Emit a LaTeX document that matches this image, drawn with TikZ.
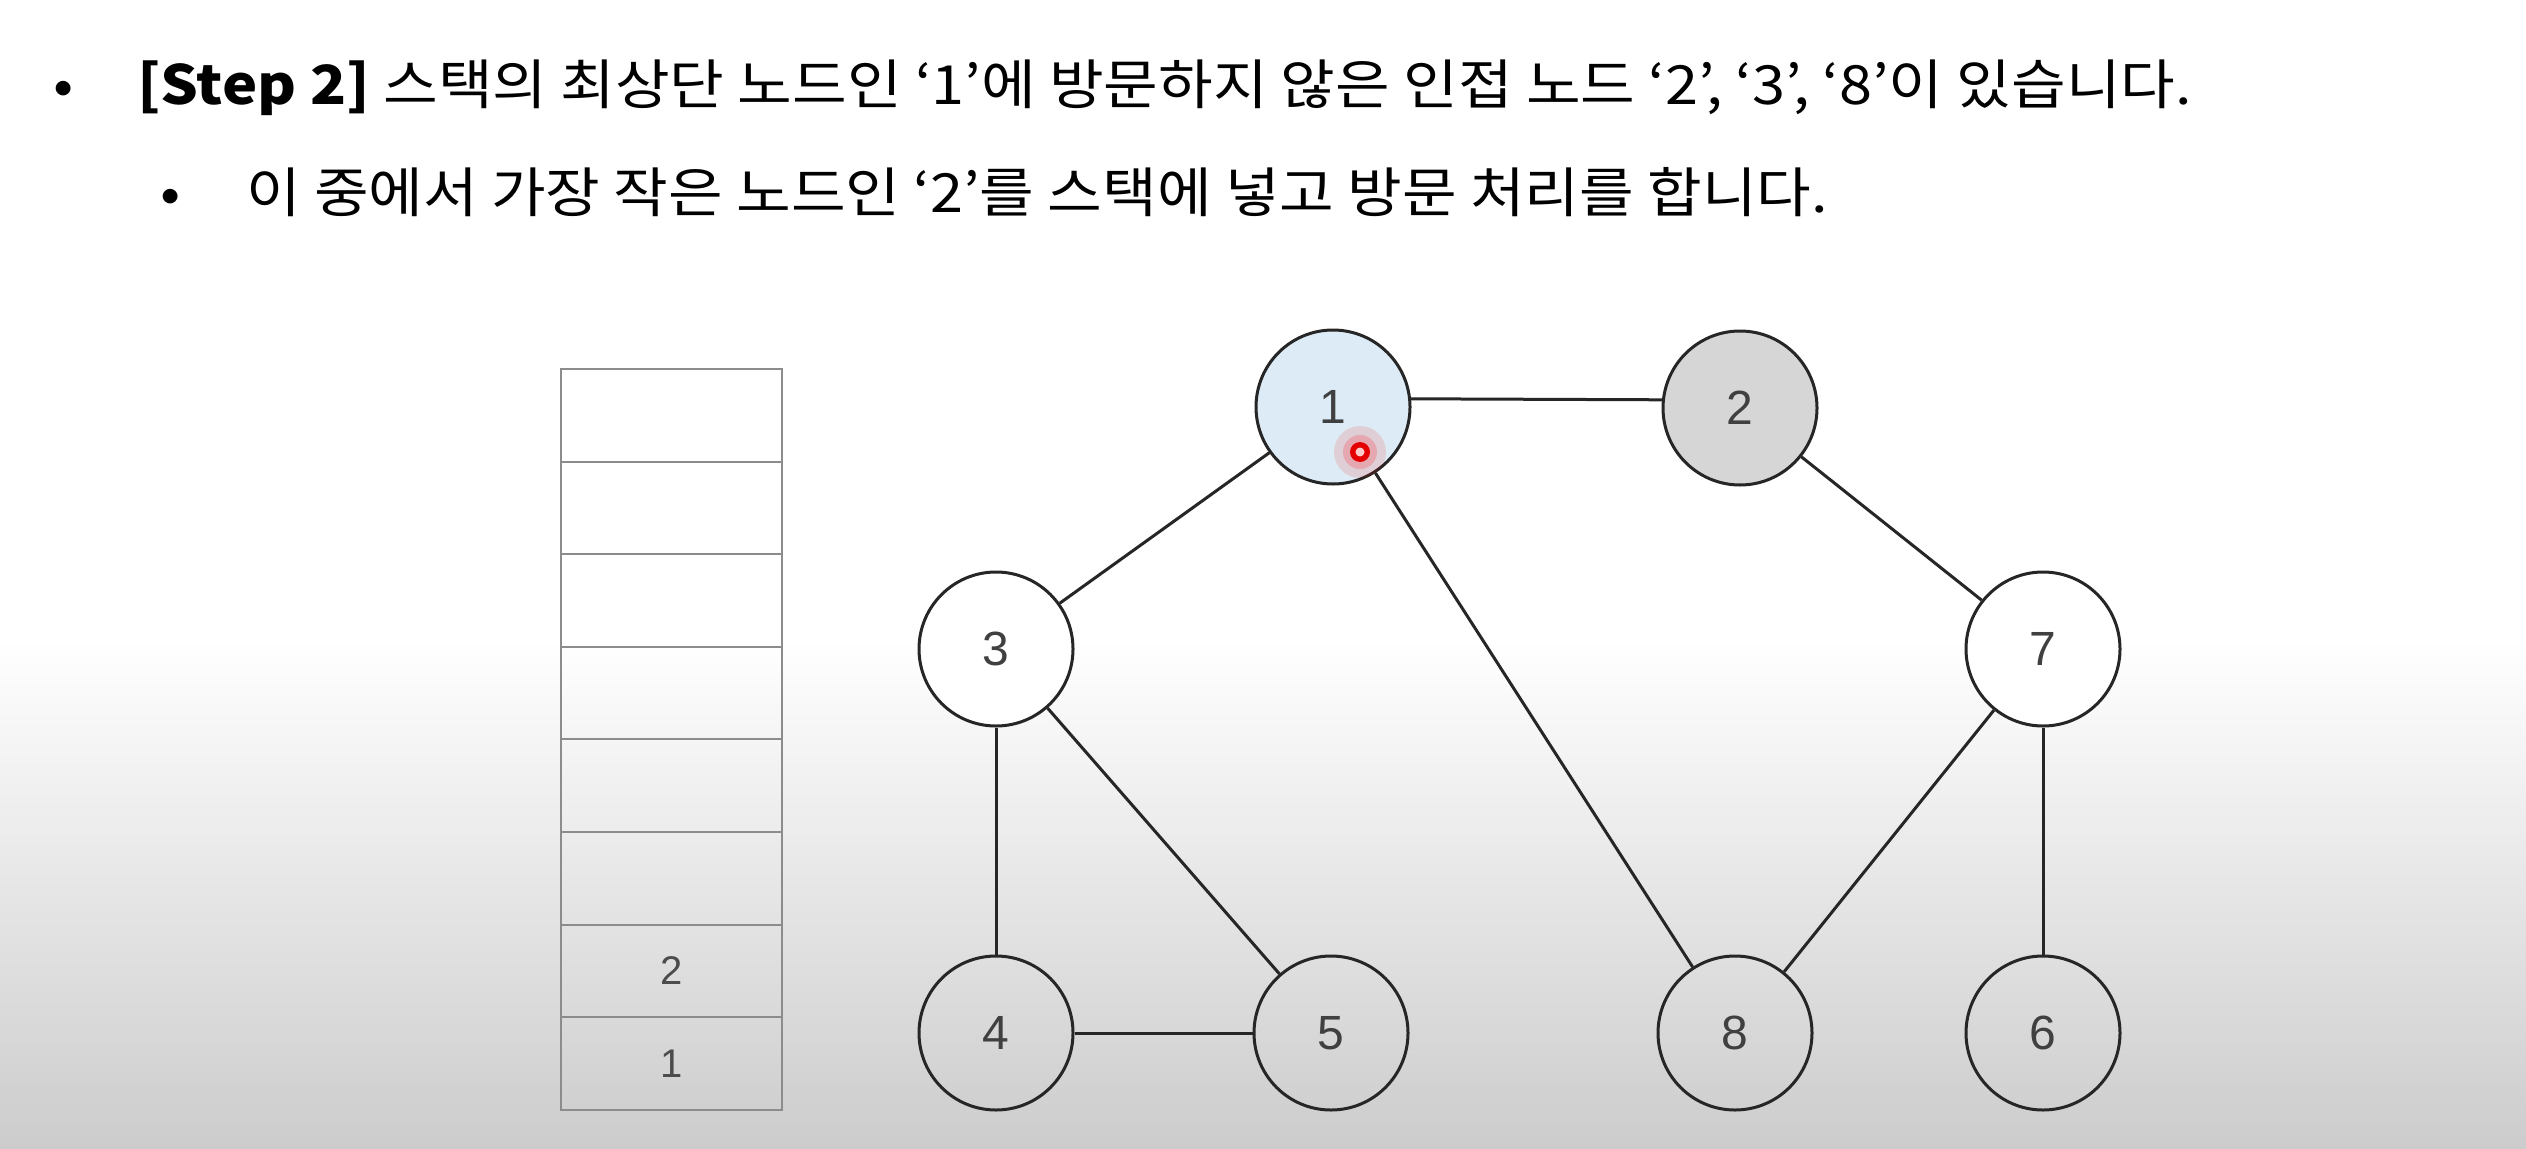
\documentclass[tikz,border=0pt]{standalone}
\usepackage{fontspec}
\setmainfont{Noto Sans CJK KR}
\newfontfamily\kfont[FakeStretch=1.1]{Noto Sans CJK KR}
\newfontfamily\numfont{Liberation Sans}
\begin{document}
\begin{tikzpicture}[x=1pt,y=-1pt,
  gnode/.style={circle,draw=black!85,line width=3pt,minimum size=154pt,inner sep=0pt,font=\numfont\fontsize{48}{48}\selectfont,text=black!75},
  edge/.style={draw=black!85,line width=3pt},
  cell/.style={draw=black!45,line width=2pt},
  txt/.style={font=\kfont\fontsize{54}{54}\selectfont,anchor=base west,inner sep=0pt},
  stacknum/.style={font=\numfont\fontsize{40}{40}\selectfont,text=black!70}]
\useasboundingbox (0,0) rectangle (2526,1148);
\fill[white] (0,0) rectangle (2526,1148);
\shade[top color=white,bottom color=black!20] (0,640) rectangle (2526,1148);
% text
\node[txt,anchor=base] (b1) at (64,104) {•};
\node[txt] (t1) at (137,104) {{\bfseries [Step 2]} 스택의 최상단 노드인 ‘1’에 방문하지 않은 인접 노드 ‘2’, ‘3’, ‘8’이 있습니다.};
\node[txt,anchor=base] (b2) at (171,212) {•};
\node[txt] (t2) at (246,212) {이 중에서 가장 작은 노드인 ‘2’를 스택에 넣고 방문 처리를 합니다.};
% stack
\foreach \i in {0,...,7} {
  \draw[cell] (561,{369+92.6*\i}) rectangle (782,{369+92.6*(\i+1)});
}
\node[stacknum] (s2) at (671.5,{369+92.6*6.5}) {2};
\node[stacknum] (s1) at (671.5,{369+92.6*7.5}) {1};
% graph nodes
\node[gnode,fill={rgb,255:red,220;green,235;blue,245}] (n1) at (1333,407) {1};
\node[gnode,fill={rgb,255:red,214;green,214;blue,214}] (n2) at (1740,408) {2};
\node[gnode,fill=white] (n3) at (996,649) {3};
\node[gnode,fill=white] (n7) at (2043,649) {7};
\node[gnode] (n4) at (996,1033) {4};
\node[gnode] (n5) at (1331,1033) {5};
\node[gnode] (n8) at (1735,1033) {8};
\node[gnode] (n6) at (2043,1033) {6};
% edges
\draw[edge] (n1.{6}) -- (n2.{174});
\draw[edge] (n1) -- (n3);
\draw[edge] (n1) -- (n8);
\draw[edge] (n2) -- (n7);
\draw[edge] (n3) -- (n4);
\draw[edge] (n3) -- (n5);
\draw[edge] (n4) -- (n5);
\draw[edge] (n7) -- (n8);
\draw[edge] (n7) -- (n6);
% red pointer
\fill[red,opacity=0.12] (1360,452) circle (26);
\fill[red,opacity=0.18] (1360,452) circle (17);
\fill[red!90!black] (1360,452) circle (10);
\fill[red!20!white] (1360,452) circle (4.5);
\end{tikzpicture}
\end{document}
